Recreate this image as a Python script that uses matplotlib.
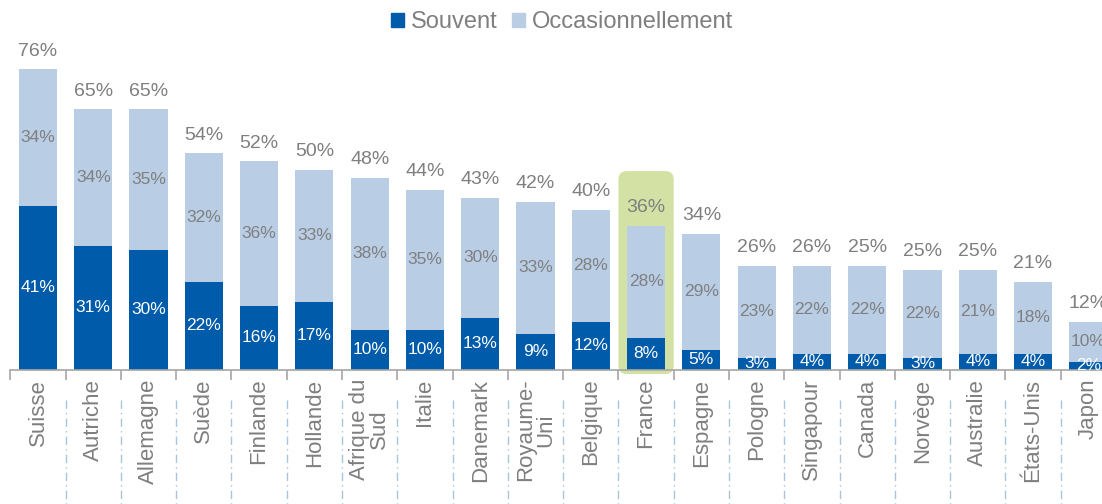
import matplotlib.pyplot as plt
from matplotlib.patches import FancyBboxPatch, Patch

plt.rcParams['font.family'] = ['Liberation Sans', 'DejaVu Sans']

pays = ["Suisse", "Autriche", "Allemagne", "Suède", "Finlande", "Hollande",
        "Afrique du\nSud", "Italie", "Danemark", "Royaume-\nUni", "Belgique",
        "France", "Espagne", "Pologne", "Singapour", "Canada", "Norvège",
        "Australie", "États-Unis", "Japon"]
souvent = [41, 31, 30, 22, 16, 17, 10, 10, 13, 9, 12, 8, 5, 3, 4, 4, 3, 4, 4, 2]
occasion = [34, 34, 35, 32, 36, 33, 38, 35, 30, 33, 28, 28, 29, 23, 22, 22, 22, 21, 18, 10]
total = [76, 65, 65, 54, 52, 50, 48, 44, 43, 42, 40, 36, 34, 26, 26, 25, 25, 25, 21, 12]

FONCE = "#005BAA"
CLAIR = "#B9CDE5"
GRIS = "#7F7F7F"
VERT = "#D3E2A4"

W, H = 1102, 504
fig = plt.figure(figsize=(W / 100, H / 100), dpi=100)
pas = 55.28
gauche = 38 - pas / 2
ax = fig.add_axes([gauche / W, (H - 370) / H, 20 * pas / W, 370 / H])
ax.set_xlim(-0.5, 19.5)
ax.set_ylim(0, 370 / 4.01)

x = list(range(len(pays)))
larg = 0.69

# encadré autour de la France
i_fr = pays.index("France")
fr = FancyBboxPatch((i_fr - 0.5, -1.0), 1.0, 50.6,
                    boxstyle="round,pad=0,rounding_size=0.15",
                    mutation_aspect=13.8, fc=VERT, ec="none",
                    zorder=0, clip_on=False)
ax.add_patch(fr)

ax.bar(x, souvent, larg, color=FONCE, zorder=2)
ax.bar(x, occasion, larg, bottom=souvent, color=CLAIR, zorder=2)

for i in x:
    s, o = souvent[i], occasion[i]
    ax.text(i, s / 2, f"{s}%", ha="center", va="center", color="white",
            fontsize=12.5, zorder=3, clip_on=True)
    ax.text(i, s + o / 2, f"{o}%", ha="center", va="center", color=GRIS,
            fontsize=12.5, zorder=3, clip_on=True)
    ax.text(i, s + o + 2.4, f"{total[i]}%", ha="center", va="bottom",
            color=GRIS, fontsize=14, zorder=3)

for sp in ["top", "right", "left"]:
    ax.spines[sp].set_visible(False)
ax.spines["bottom"].set_color("#A6A6A6")
ax.spines["bottom"].set_linewidth(1.2)
ax.set_yticks([])

# graduations entre les pays
ax.set_xticks([i - 0.5 for i in range(21)])
ax.set_xticklabels([])
ax.tick_params(axis="x", direction="out", length=7, width=1.2, color="#A6A6A6")

for i in x:
    ax.text(i, -2.2, pays[i], rotation=90, ha="center", va="top",
            multialignment="center", color=GRIS, fontsize=16,
            linespacing=0.95, clip_on=False)

# séparateurs pointillés sous les libellés
for i in range(1, 20):
    ax.plot([i - 0.5, i - 0.5], [-7.5, -34], color="#A9C4E0", lw=1,
            ls=(0, (6, 3, 1, 3)), clip_on=False, zorder=1)

poignees = [Patch(color=FONCE, label="Souvent"),
            Patch(color=CLAIR, label="Occasionnellement")]
fig.legend(handles=poignees, loc="center", bbox_to_anchor=(562 / W, 1 - 22 / H),
           ncol=2, frameon=False, fontsize=17, handlelength=0.55,
           handleheight=0.55, handletextpad=0.3, columnspacing=0.6,
           labelcolor=GRIS)

fig.savefig("out.png", dpi=100)
